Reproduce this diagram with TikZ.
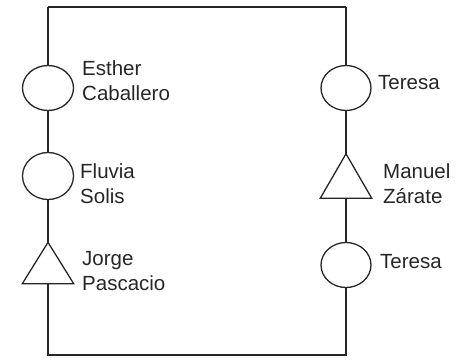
\documentclass[tikz,border=0pt]{standalone}
\usepackage{fontspec}
\setmainfont{Liberation Sans}
\usetikzlibrary{shapes.geometric}
\begin{document}
\begin{tikzpicture}[x=1pt,y=-1pt,
  wire/.style={draw=black!85,line width=1.3pt},
  female/.style={ellipse,draw=black!85,line width=1.3pt,minimum width=51pt,minimum height=45pt,inner sep=0pt},
  malebox/.style={rectangle,minimum width=51pt,minimum height=41pt,inner sep=0pt},
  malefig/.style={draw=black!85,line width=1.3pt,line join=miter},
  lbl/.style={anchor=base west,inner sep=0pt,align=left,text=black!85,font=\fontsize{20.5pt}{25pt}\selectfont}]
\useasboundingbox (0,0) rectangle (465,359);
% corners
\coordinate (tl) at (48,7);
\coordinate (tr) at (346,7);
\coordinate (bl) at (48,355);
\coordinate (br) at (346,355);
% left column
\node[female] (esther) at (48,88) {};
\node[female,minimum height=47pt] (fluvia) at (48,176) {};
\node[malebox] (jorge) at (48,263) {};
\draw[malefig] (jorge.north) -- (jorge.south east) -- (jorge.south west) -- cycle;
% right column
\node[female,minimum width=50pt] (teresa1) at (346,88) {};
\node[malebox,minimum height=44pt] (manuel) at (346,176) {};
\draw[malefig] (manuel.north) -- (manuel.south east) -- (manuel.south west) -- cycle;
\node[female,minimum width=50pt] (teresa2) at (346,265) {};
% connectors
\draw[wire] (tl) -- (tr);
\draw[wire] (tl) -- (esther.north);
\draw[wire] (esther.south) -- (fluvia.north);
\draw[wire] (fluvia.south) -- (jorge.north);
\draw[wire] (jorge.south) -- (bl) -- (br) -- (teresa2.south);
\draw[wire] (tr) -- (teresa1.north);
\draw[wire] (teresa1.south) -- (manuel.north);
\draw[wire] (manuel.south) -- (teresa2.north);
% labels (anchor = baseline of last line)
\node[lbl] (lesther) at (82,100) {Esther\\Caballero};
\node[lbl] (lfluvia) at (80,203) {Fluvia\\Solis};
\node[lbl] (ljorge) at (82,290) {Jorge\\Pascacio};
\node[lbl] (lteresa1) at (378,89) {Teresa};
\node[lbl] (lmanuel) at (383,203) {Manuel\\Zárate};
\node[lbl] (lteresa2) at (380,268) {Teresa};
\end{tikzpicture}
\end{document}
